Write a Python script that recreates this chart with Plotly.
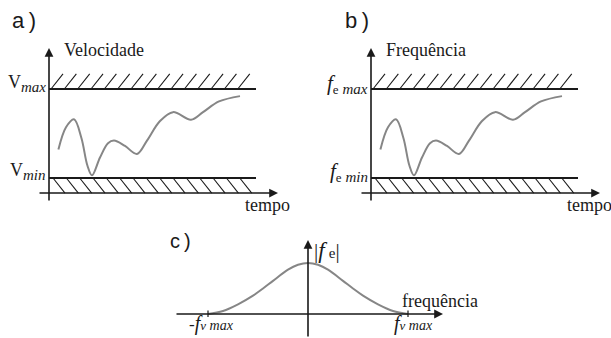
import plotly.graph_objects as go

# ---------------- data ----------------
# panels a) and b): the same wandering signal, time units vs. value
# where the lower limit is 0 and the upper limit is 1
curve_t = [0.47, 0.85, 1.25, 1.62, 1.92, 2.15, 2.55, 2.95, 3.25, 3.80,
           4.40, 4.90, 5.55, 6.20, 7.10, 7.70, 8.50, 9.55]
curve_v = [0.32, 0.57, 0.66, 0.45, 0.14, 0.03, 0.23, 0.39, 0.42, 0.36,
           0.27, 0.42, 0.64, 0.74, 0.655, 0.74, 0.86, 0.92]
v_min, v_max = 0.0, 1.0
band_end = 10.35          # where the limit lines stop (time units)

# panel c): spectrum magnitude, frequency in units of f_v max
spec_f = [-1.0, -0.85, -0.7, -0.55, -0.45, -0.35, -0.2, -0.1, 0.0,
          0.1, 0.2, 0.35, 0.45, 0.55, 0.7, 0.85, 1.0]
spec_h = [0.0, 0.06, 0.19, 0.36, 0.5, 0.65, 0.87, 0.965, 1.0,
          0.965, 0.87, 0.65, 0.5, 0.36, 0.19, 0.06, 0.0]
f_ticks = [-1.0, 1.0]

# ---------------- style ----------------
SERIF = "Liberation Serif"
SANS = "Liberation Sans"
INK = "#1a1a1a"
GRAY = "#868686"
W, H = 611, 338

hatch_step, hatch_dx, hatch_dy = 0.667, 0.6, 0.169

fig = go.Figure()


def panel(xa, ya, title_html, max_html, min_html, letter):
    xr = dict(xref=xa, yref=ya)
    # wandering curve
    fig.add_trace(go.Scatter(x=curve_t, y=curve_v, mode="lines",
                             line=dict(color=GRAY, width=2, shape="spline", smoothing=1.0),
                             xaxis=xa, yaxis=ya, hoverinfo="skip"))
    # hatching
    hx, hy = [], []
    b = 0.1
    while b + hatch_dx <= band_end + 0.05:
        hx += [b, b + hatch_dx, None]
        hy += [v_max, v_max + hatch_dy, None]
        b += hatch_step
    b = 0.2
    while b + hatch_dx <= band_end + 0.1:
        hx += [b, b + hatch_dx, None]
        hy += [v_min, v_min - hatch_dy, None]
        b += hatch_step
    fig.add_trace(go.Scatter(x=hx, y=hy, mode="lines", line=dict(color=INK, width=1.1),
                             xaxis=xa, yaxis=ya, hoverinfo="skip"))
    # limit lines
    for v in (v_max, v_min):
        fig.add_shape(type="line", x0=0, x1=band_end, y0=v, y1=v,
                      line=dict(color=INK, width=2), **xr)
    # axes with arrows
    fig.add_annotation(x=11.45, y=v_min - hatch_dy, ax=-0.55, ay=v_min - hatch_dy,
                       axref=xa, ayref=ya, showarrow=True, arrowhead=2, arrowsize=1.1,
                       arrowwidth=1.6, arrowcolor=INK, text="", **xr)
    fig.add_annotation(x=0, y=1.46, ax=0, ay=-0.27, axref=xa, ayref=ya,
                       showarrow=True, arrowhead=2, arrowsize=1.1,
                       arrowwidth=1.6, arrowcolor=INK, text="", **xr)
    # texts
    fig.add_annotation(x=0.65, y=1.44, text=title_html, showarrow=False,
                       xanchor="left", yanchor="middle",
                       font=dict(family=SERIF, size=18, color=INK), **xr)
    fig.add_annotation(x=9.7, y=-0.30, text="tempo", showarrow=False,
                       xanchor="left", yanchor="middle",
                       font=dict(family=SERIF, size=18, color=INK), **xr)
    fig.add_annotation(x=-0.05, y=v_max + 0.06, text=max_html, showarrow=False,
                       xanchor="right", yanchor="middle",
                       font=dict(family=SERIF, size=18, color=INK), **xr)
    fig.add_annotation(x=-0.05, y=v_min + 0.07, text=min_html, showarrow=False,
                       xanchor="right", yanchor="middle",
                       font=dict(family=SERIF, size=18, color=INK), **xr)
    fig.add_annotation(x=letter[1], y=1.77, text=letter[0], showarrow=False,
                       xanchor="left", yanchor="middle",
                       font=dict(family=SANS, size=22, color=INK), **xr)


panel("x", "y", "Velocidade",
      "V<sub><span style='font-size:15px'><i>max</i></span></sub>",
      "V<sub><span style='font-size:15px'><i>min</i></span></sub>",
      ("a\u2009)", -1.95))
panel("x2", "y2", "Frequência",
      "<span style='font-size:21px'><i>f</i></span><sub><span style='font-size:13px'>e</span><span style='font-size:15px'><i> max</i></span></sub>",
      "<span style='font-size:21px'><i>f</i></span><sub><span style='font-size:13px'>e</span><span style='font-size:15px'><i> min</i></span></sub>",
      ("b\u2009)", -1.4))

# ---------------- panel c ----------------
fig.add_trace(go.Scatter(x=spec_f, y=spec_h, mode="lines",
                         line=dict(color=GRAY, width=2, shape="spline", smoothing=1.0),
                         xaxis="x3", yaxis="y3", hoverinfo="skip"))
cr = dict(xref="x3", yref="y3")
fig.add_annotation(x=1.35, y=0, ax=-1.33, ay=0, axref="x3", ayref="y3",
                   showarrow=True, arrowhead=2, arrowsize=1.1, arrowwidth=1.6,
                   arrowcolor=INK, text="", **cr)
fig.add_annotation(x=0, y=1.45, ax=0, ay=-0.47, axref="x3", ayref="y3",
                   showarrow=True, arrowhead=2, arrowsize=1.1, arrowwidth=1.6,
                   arrowcolor=INK, text="", **cr)
for ft in f_ticks:
    fig.add_shape(type="line", x0=ft, x1=ft, y0=-0.06, y1=0.07,
                  line=dict(color=INK, width=1.2), **cr)
fig.add_annotation(x=-1.4, y=1.43, text="c\u2009)", showarrow=False, xanchor="left",
                   yanchor="middle", font=dict(family=SANS, size=20, color=INK), **cr)
fig.add_annotation(x=0.04, y=1.25,
                   text="|<span style='font-size:23px'><i>f</i></span>\u2009<span style='font-size:15px'>e</span>|",
                   showarrow=False, xanchor="left", yanchor="middle",
                   font=dict(family=SERIF, size=21, color=INK), **cr)
fig.add_annotation(x=0.92, y=0.26, text="frequência", showarrow=False,
                   xanchor="left", yanchor="middle",
                   font=dict(family=SERIF, size=18, color=INK), **cr)
fig.add_annotation(x=-1.21, y=-0.45,
                   text="-<span style='font-size:20px'><i>f</i></span><span style='font-size:13px'><i>v</i></span><span style='font-size:14px'><i> max</i></span>",
                   showarrow=False, xanchor="left", yanchor="bottom",
                   font=dict(family=SERIF, size=17, color=INK), **cr)
fig.add_annotation(x=0.84, y=-0.45,
                   text="<span style='font-size:20px'><i>f</i></span><span style='font-size:13px'><i>v</i></span><span style='font-size:14px'><i> max</i></span>",
                   showarrow=False, xanchor="left", yanchor="bottom",
                   font=dict(family=SERIF, size=17, color=INK), **cr)

# ---------------- axes (invisible, used as scales) ----------------
hid = dict(visible=False, showgrid=False, zeroline=False, fixedrange=True)
fig.update_layout(
    width=W, height=H, margin=dict(l=0, r=0, t=0, b=0),
    paper_bgcolor="white", plot_bgcolor="white", showlegend=False,
    xaxis=dict(domain=[0, 305 / W], range=[-2.45, 12.8], **hid),
    yaxis=dict(domain=[1 - 225 / H, 1], range=[-0.5281, 2.0], **hid),
    xaxis2=dict(domain=[322 / W, 1], range=[-2.45, 12.0], anchor="y2", **hid),
    yaxis2=dict(domain=[1 - 225 / H, 1], range=[-0.5281, 2.0], anchor="x2", **hid),
    xaxis3=dict(domain=[0, 1], range=[-3.08, 3.03], anchor="y3", **hid),
    yaxis3=dict(domain=[0, 1 - 225 / H], range=[-0.4706, 1.745], anchor="x3", **hid),
)

fig.write_html("out.html")
